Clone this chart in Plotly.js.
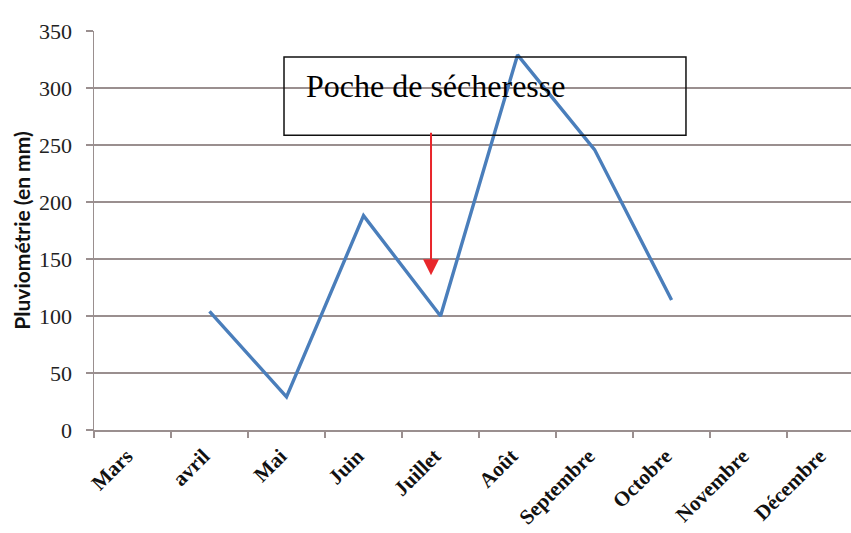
<!DOCTYPE html>
<html>
<head>
<meta charset="utf-8">
<script src="https://cdn.plot.ly/plotly-3.0.1.min.js"></script>
<style>html,body{margin:0;padding:0;background:#fff;}#chart{width:851px;height:533px;}</style>
</head>
<body>
<div id="chart"></div>
<script>
const months = ["Mars","avril","Mai","Juin","Juillet","Août","Septembre","Octobre","Novembre","Décembre"];
const rainfall = [null,104,29,188,100,329,246,114,null,null];
const yTicks = [0,50,100,150,200,250,300,350];
const annotationText = "Poche de sécheresse";
const yTitle = "Pluviométrie (en mm)";

const gridColor = "#9a8f8f";
const trace = {
  x: months, y: rainfall, type: "scatter", mode: "lines",
  line: {color: "#4a7ebb", width: 3.4}, connectgaps: false, hoverinfo: "skip"
};
const layout = {
  width: 851, height: 533,
  margin: {l: 94, r: 0, t: 31, b: 103},
  paper_bgcolor: "#fff", plot_bgcolor: "#fff",
  showlegend: false,
  xaxis: {
    type: "category", range: [-0.5, 9.33], fixedrange: true,
    showgrid: false, zeroline: false, showline: true, linecolor: gridColor, linewidth: 1.5,
    ticks: "outside", tickson: "boundaries", ticklen: 6, tickcolor: gridColor, tickwidth: 1.5,
    tickangle: -45, ticklabelshift: -6, ticklabelstandoff: 4,
    tickfont: {family: "Liberation Serif, Times New Roman, serif", size: 21, color: "#111", weight: "bold"}
  },
  yaxis: {
    range: [0, 350], tickvals: yTicks, fixedrange: true,
    showgrid: true, gridcolor: gridColor, gridwidth: 1.5,
    zeroline: false, showline: true, linecolor: gridColor, linewidth: 1.5,
    ticks: "outside", ticklen: 7, tickcolor: gridColor, tickwidth: 1.5,
    ticklabelstandoff: 9,
    tickfont: {family: "Liberation Serif, Times New Roman, serif", size: 22, color: "#222"},
    title: {text: yTitle, standoff: 2, font: {family: "Lato, Open Sans, sans-serif", size: 21, color: "#111", weight: "bold"}}
  },
  shapes: [{
    type: "rect", xref: "paper", yref: "paper", layer: "above",
    x0: 0.251, x1: 0.782, y0: 0.739, y1: 0.935,
    line: {color: "#111", width: 1.5}, fillcolor: "rgba(0,0,0,0)"
  }],
  annotations: [
    {xref: "paper", yref: "paper", x: 0.277, y: 0.862, xanchor: "left", yanchor: "middle",
     text: annotationText, showarrow: false,
     font: {family: "Liberation Serif, Times New Roman, serif", size: 32, color: "#000"}},
    {xref: "paper", yref: "paper", x: 0.4452, y: 0.388, text: "", showarrow: true,
     axref: "pixel", ayref: "pixel", ax: 0, ay: -144,
     arrowhead: 2, arrowsize: 1.6, arrowwidth: 2, arrowcolor: "#e8262b"}
  ]
};
Plotly.newPlot("chart", [trace], layout, {displayModeBar: false, staticPlot: true});
</script>
</body>
</html>
